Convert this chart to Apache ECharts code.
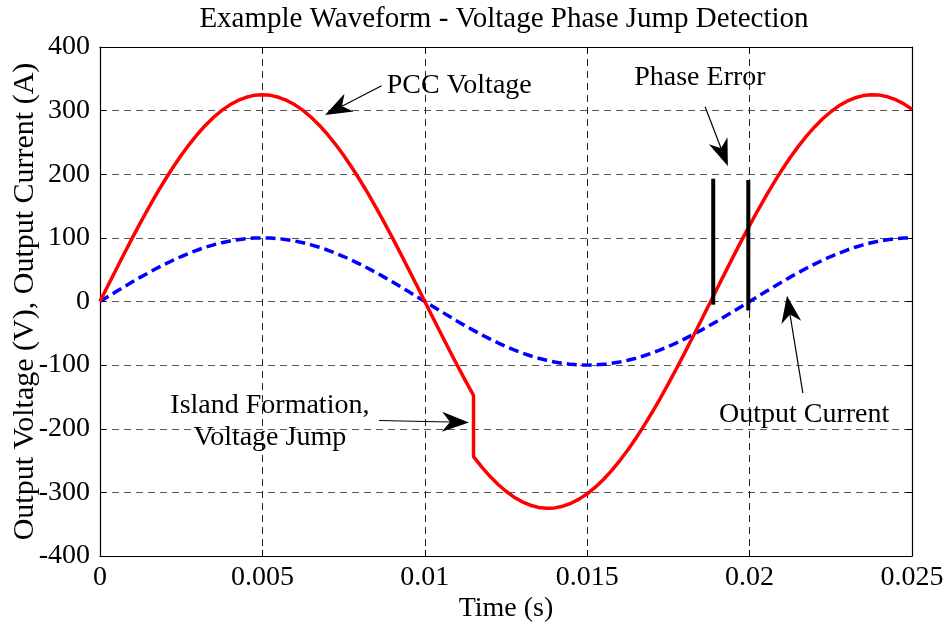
<!DOCTYPE html>
<html>
<head>
<meta charset="utf-8">
<script src="https://cdn.jsdelivr.net/npm/echarts@6/dist/echarts.min.js"></script>
<style>html,body{margin:0;padding:0;background:#fff}#c{width:946px;height:634px}</style>
</head>
<body>
<div id="c"></div>
<script>
// Time samples (s); 0.0115 appears twice for the island-formation voltage jump
const time = [0, 0.00025, 0.0005, 0.00075, 0.001, 0.00125, 0.0015, 0.00175, 0.002, 0.00225, 0.0025, 0.00275, 0.003, 0.00325, 0.0035, 0.00375, 0.004, 0.00425, 0.0045, 0.00475, 0.005, 0.00525, 0.0055, 0.00575, 0.006, 0.00625, 0.0065, 0.00675, 0.007, 0.00725, 0.0075, 0.00775, 0.008, 0.00825, 0.0085, 0.00875, 0.009, 0.00925, 0.0095, 0.00975, 0.01, 0.01025, 0.0105, 0.01075, 0.011, 0.01125, 0.0115, 0.0115, 0.01175, 0.012, 0.01225, 0.0125, 0.01275, 0.013, 0.01325, 0.0135, 0.01375, 0.014, 0.01425, 0.0145, 0.01475, 0.015, 0.01525, 0.0155, 0.01575, 0.016, 0.01625, 0.0165, 0.01675, 0.017, 0.01725, 0.0175, 0.01775, 0.018, 0.01825, 0.0185, 0.01875, 0.019, 0.01925, 0.0195, 0.01975, 0.02, 0.02025, 0.0205, 0.02075, 0.021, 0.02125, 0.0215, 0.02175, 0.022, 0.02225, 0.0225, 0.02275, 0.023, 0.02325, 0.0235, 0.02375, 0.024, 0.02425, 0.0245, 0.02475, 0.025];

// PCC voltage (V)
const pccVoltage = [0, 25.5, 50.8, 75.9, 100.4, 124.4, 147.5, 169.8, 191.0, 211.1, 229.8, 247.1, 262.9, 277.1, 289.6, 300.3, 309.1, 316.0, 321.0, 324.0, 325, 324.0, 321.0, 316.0, 309.1, 300.3, 289.6, 277.1, 262.9, 247.1, 229.8, 211.1, 191.0, 169.8, 147.5, 124.4, 100.4, 75.9, 50.8, 25.5, 0, -25.5, -50.8, -75.9, -100.4, -124.4, -147.5, -243.8, -259.9, -274.4, -287.2, -298.3, -307.5, -314.8, -320.2, -323.6, -325.0, -324.4, -321.7, -317.2, -310.6, -302.2, -291.9, -279.7, -265.9, -250.4, -233.4, -214.9, -195.1, -174.1, -152.1, -129.1, -105.3, -80.8, -55.9, -30.6, -5.1, 20.4, 45.8, 70.9, 95.6, 119.6, 143.0, 165.4, 186.9, 207.2, 226.2, 243.8, 259.9, 274.4, 287.2, 298.3, 307.5, 314.8, 320.2, 323.6, 325.0, 324.4, 321.7, 317.2, 310.6, 302.2];

// Output current (A)
const outputCurrent = [0, 7.8, 15.6, 23.3, 30.9, 38.3, 45.4, 52.3, 58.8, 64.9, 70.7, 76.0, 80.9, 85.3, 89.1, 92.4, 95.1, 97.2, 98.8, 99.7, 100, 99.7, 98.8, 97.2, 95.1, 92.4, 89.1, 85.3, 80.9, 76.0, 70.7, 64.9, 58.8, 52.3, 45.4, 38.3, 30.9, 23.3, 15.6, 7.8, 0, -7.8, -15.6, -23.3, -30.9, -38.3, -45.4, -45.4, -52.3, -58.8, -64.9, -70.7, -76.0, -80.9, -85.3, -89.1, -92.4, -95.1, -97.2, -98.8, -99.7, -100, -99.7, -98.8, -97.2, -95.1, -92.4, -89.1, -85.3, -80.9, -76.0, -70.7, -64.9, -58.8, -52.3, -45.4, -38.3, -30.9, -23.3, -15.6, -7.8, 0, 7.8, 15.6, 23.3, 30.9, 38.3, 45.4, 52.3, 58.8, 64.9, 70.7, 76.0, 80.9, 85.3, 89.1, 92.4, 95.1, 97.2, 98.8, 99.7, 100];

// Phase error markers
const phaseErrorTime = [0.01888, 0.01996];
const phaseErrorTop = [193, 191];
const phaseErrorBottom = [-5, -14];

// Axis ticks
const xTicks = [0, 0.005, 0.01, 0.015, 0.02, 0.025];
const yTicks = [-400, -300, -200, -100, 0, 100, 200, 300, 400];

const FONT = 'Liberation Serif';
const FS = 28;
const chart = echarts.init(document.getElementById('c'), null, {renderer: 'canvas'});

const zip = (a, b) => a.map((v, i) => [v, b[i]]);
const xFmt = v => String(+(+v).toFixed(4));

const gridLineX = {show: true, lineStyle: {color: '#222', width: 1, type: [7, 5]}};
const gridLineY = {show: true, lineStyle: {color: '#555', width: 1, type: [7, 5]}};
const axisLine = {show: true, onZero: false, lineStyle: {color: '#000', width: 1.2}};
const tickIn = {show: true, inside: true, length: 6, lineStyle: {color: '#000'}};

const option = {
  animation: false,
  backgroundColor: '#fff',
  grid: {left: 100, right: 34, top: 47, bottom: 78, containLabel: false, outerBoundsMode: 'none'},
  xAxis: [{
    type: 'value', min: xTicks[0], max: xTicks[xTicks.length - 1], interval: 0.005,
    position: 'bottom',
    name: 'Time (s)', nameLocation: 'middle', nameGap: 39, nameMoveOverlap: false,
    nameTextStyle: {fontFamily: FONT, fontSize: FS, color: '#000'},
    axisLine: axisLine, axisTick: tickIn, splitLine: gridLineX,
    axisLabel: {fontFamily: FONT, fontSize: FS, color: '#000', margin: 8, formatter: xFmt}
  }, {
    type: 'value', min: xTicks[0], max: xTicks[xTicks.length - 1], interval: 0.005,
    position: 'top',
    axisLine: axisLine, axisTick: tickIn, splitLine: {show: false}, axisLabel: {show: false}
  }],
  yAxis: [{
    type: 'value', min: yTicks[0], max: yTicks[yTicks.length - 1], interval: 100,
    position: 'left',
    name: 'Output Voltage (V), Output Current (A)', nameLocation: 'middle', nameGap: 60, nameMoveOverlap: false,
    nameTextStyle: {fontFamily: FONT, fontSize: 30, color: '#000'},
    axisLine: axisLine, axisTick: tickIn, splitLine: gridLineY,
    axisLabel: {fontFamily: FONT, fontSize: FS, color: '#000', margin: 10}
  }, {
    type: 'value', min: yTicks[0], max: yTicks[yTicks.length - 1], interval: 100,
    position: 'right',
    axisLine: axisLine, axisTick: tickIn, splitLine: {show: false}, axisLabel: {show: false}
  }],
  series: [
    {
      name: 'Output Current', type: 'line', data: zip(time, outputCurrent),
      showSymbol: false, symbol: 'none', z: 3,
      lineStyle: {color: '#0000ff', width: 3.5, type: [10, 5]}
    },
    {
      name: 'PCC Voltage', type: 'line', data: zip(time, pccVoltage),
      showSymbol: false, symbol: 'none', z: 4,
      lineStyle: {color: '#ff0000', width: 3.5}
    }
  ].concat(phaseErrorTime.map((t, i) => ({
    name: 'Phase Error ' + (i + 1), type: 'line',
    data: [[t, phaseErrorTop[i]], [t, phaseErrorBottom[i]]],
    showSymbol: false, symbol: 'none', z: 5,
    lineStyle: {color: '#000', width: 4}
  })))
};
chart.setOption(option);

// Annotations (data coordinates)
const notes = [
  {text: ['PCC Voltage'], at: [0.00883, 339], align: 'left', from: [0.00867, 339], to: [0.00693, 293]},
  {text: ['Phase Error'], at: [0.01847, 352], align: 'center', from: [0.01863, 306], to: [0.01933, 213]},
  {text: ['Island Formation,', 'Voltage Jump'], at: [0.00523, -163], align: 'center', from: [0.00859, -187], to: [0.01136, -190]},
  {text: ['Output Current'], at: [0.02168, -178], align: 'center', from: [0.02164, -144], to: [0.02115, 9]}
];

const px = p => chart.convertToPixel({gridIndex: 0}, p);
const graphics = [];
graphics.push({
  type: 'text', z: 10,
  style: {text: 'Example Waveform - Voltage Phase Jump Detection', x: 504, y: 19,
          font: '29px "' + FONT + '"', fill: '#000',
          textAlign: 'center', textVerticalAlign: 'middle', align: 'center', verticalAlign: 'middle'}
});
notes.forEach(n => {
  const p = px(n.at);
  n.text.forEach((line, i) => {
    graphics.push({
      type: 'text', z: 10,
      style: {text: line, x: p[0], y: p[1] + i * 32, font: FS + 'px "' + FONT + '"', fill: '#000',
              textAlign: n.align, textVerticalAlign: 'middle', align: n.align, verticalAlign: 'middle'}
    });
  });
  const a = px(n.from), b = px(n.to);
  const dx = b[0] - a[0], dy = b[1] - a[1];
  const len = Math.sqrt(dx * dx + dy * dy);
  const ux = dx / len, uy = dy / len, nx = -uy, ny = ux;
  const L = 27, W = 10, N = 8;
  const base = [b[0] - (L - N) * ux, b[1] - (L - N) * uy];
  graphics.push({type: 'line', z: 10, shape: {x1: a[0], y1: a[1], x2: base[0], y2: base[1]},
                 style: {stroke: '#000', lineWidth: 1.2}});
  graphics.push({type: 'polygon', z: 10, shape: {points: [
      [b[0], b[1]],
      [b[0] - L * ux + W * nx, b[1] - L * uy + W * ny],
      base,
      [b[0] - L * ux - W * nx, b[1] - L * uy - W * ny]
    ]}, style: {fill: '#000'}});
});
chart.setOption({graphic: graphics});
</script>
</body>
</html>
